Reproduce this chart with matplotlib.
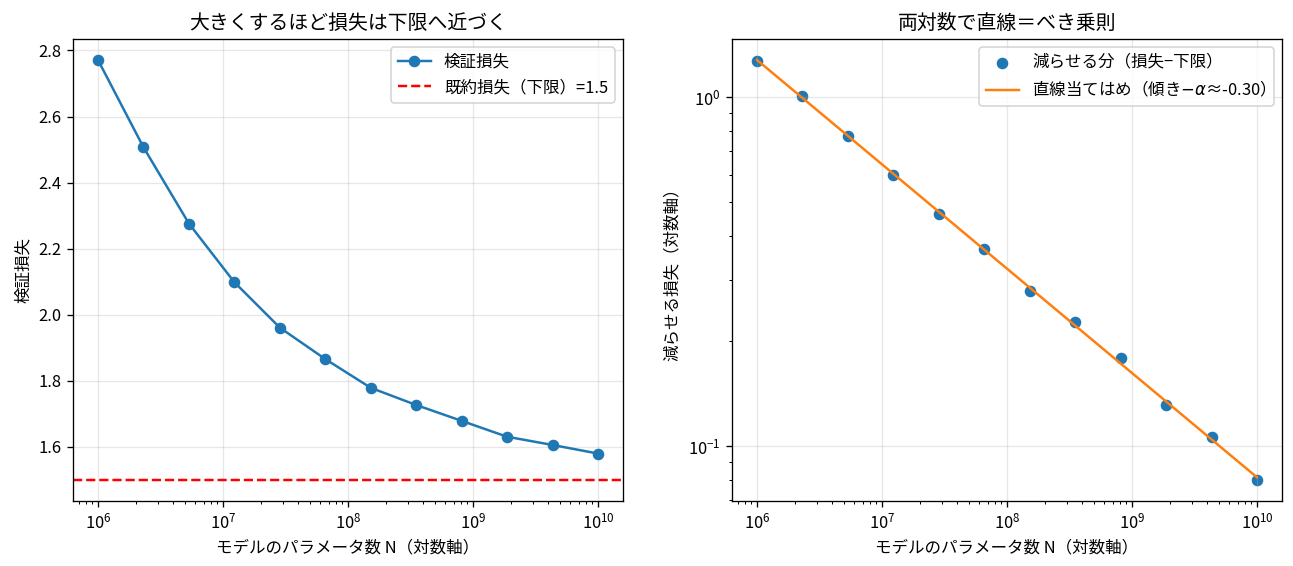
import numpy as np
import matplotlib
matplotlib.use("Agg")
import matplotlib.pyplot as plt

plt.rcParams['font.family'] = ['Noto Sans CJK JP', 'DejaVu Sans']
plt.rcParams['axes.unicode_minus'] = True

# Data
params_N = [1.0e6, 2.31e6, 5.34e6, 1.23e7, 2.85e7, 6.58e7, 1.52e8, 3.51e8, 8.11e8, 1.87e9, 4.33e9, 1.0e10]
val_loss = [2.771, 2.507, 2.276, 2.099, 1.961, 1.866, 1.779, 1.727, 1.679, 1.631, 1.606, 1.580]
loss_floor = 1.5

N = np.array(params_N)
L = np.array(val_loss)
reducible = L - loss_floor

fig = plt.figure(figsize=(1293/119, 566/119), dpi=119)
ax1 = fig.add_axes([73/1293, 1-501/566, 550/1293, 462/566])
ax2 = fig.add_axes([732/1293, 1-501/566, 550/1293, 462/566])

# Left panel
ax1.plot(N, L, 'o-', color='C0', label='検証損失')
ax1.axhline(loss_floor, color='red', linestyle='--', label=f'既約損失（下限）={loss_floor}')
ax1.set_xscale('log')
ax1.set_xlabel('モデルのパラメータ数 N（対数軸）')
ax1.set_ylabel('検証損失')
ax1.set_title('大きくするほど損失は下限へ近づく')
ax1.grid(True, alpha=0.3)
ax1.legend(loc='upper right')

# Right panel
slope, intercept = np.polyfit(np.log10(N), np.log10(reducible), 1)
fit = 10 ** (intercept + slope * np.log10(N))
ax2.scatter(N, reducible, color='C0', label='減らせる分（損失−下限）')
ax2.plot(N, fit, color='C1', label=f'直線当てはめ（傾き$-\\alpha$≈{slope:.2f}）')
ax2.set_xscale('log')
ax2.set_yscale('log')
ax2.set_xlabel('モデルのパラメータ数 N（対数軸）')
ax2.set_ylabel('減らせる損失（対数軸）')
ax2.set_title('両対数で直線＝べき乗則')
ax2.grid(True, alpha=0.3)
ax2.legend(loc='upper right')

fig.savefig('out.png', dpi=119)
